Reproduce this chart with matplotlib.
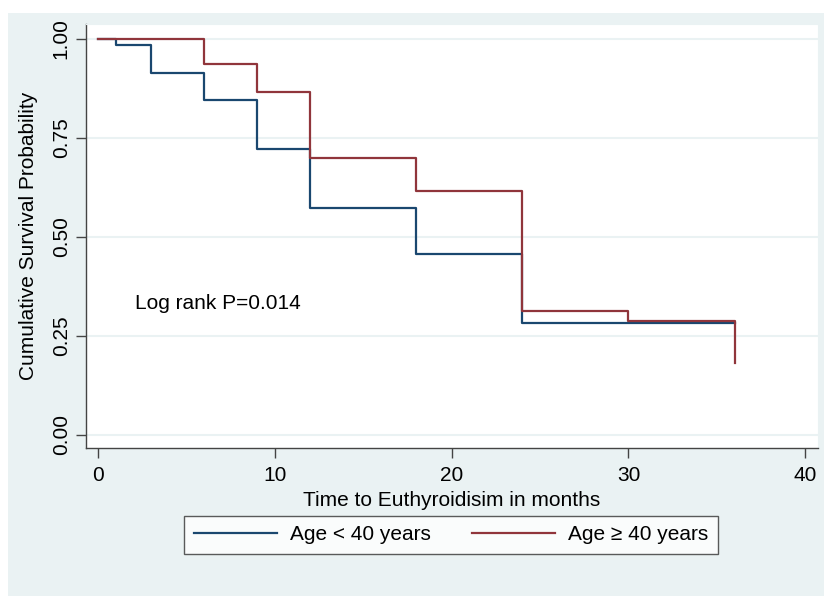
import matplotlib
matplotlib.use("Agg")
import matplotlib.pyplot as plt
from matplotlib.patches import Rectangle

plt.rcParams["font.family"] = ["Liberation Sans", "DejaVu Sans"]

# ---- data
young_t = [0, 1, 3, 6, 9, 12, 18, 24, 36]
young_s = [1.0, 0.984, 0.913, 0.846, 0.720, 0.573, 0.455, 0.282, 0.282]
old_t = [0, 6, 9, 12, 18, 24, 30, 36]
old_s = [1.0, 0.937, 0.866, 0.699, 0.615, 0.313, 0.287, 0.18]
labels = ["Age < 40 years", "Age \u2265 40 years"]
xticks = [0, 10, 20, 30, 40]
yticks = [0.0, 0.25, 0.50, 0.75, 1.00]

BLUE, RED = "#1A476F", "#90353B"
BG = "#EAF2F3"
FS = 15

fig = plt.figure(figsize=(8.24, 5.97), dpi=100, facecolor="white")
# stata-style light outer region
fig.patches.append(Rectangle((8 / 824, 1 / 597), 816 / 824, (597 - 13 - 1) / 597,
                             transform=fig.transFigure, facecolor=BG,
                             edgecolor="none", zorder=-10))
ax = fig.add_axes([86 / 824, 1 - 448 / 597, (818 - 86) / 824, (448 - 24) / 597])
ax.set_facecolor("white")

for y in yticks:
    ax.axhline(y, color=BG, lw=1.5, zorder=0)

ax.step(young_t, young_s, where="post", color=BLUE, lw=1.6, label=labels[0])
ax.step(old_t, old_s, where="post", color=RED, lw=1.6, label=labels[1])

ax.set_xlim(-0.68, 40.72)
ax.set_ylim(-0.034, 1.037)
ax.set_xticks(xticks)
ax.set_yticks(yticks)
ax.set_yticklabels([f"{v:.2f}" for v in yticks], rotation=90, va="center")
ax.tick_params(labelsize=FS, length=7, width=1, color="#444444", pad=4)
ax.tick_params(axis="x", pad=6)

for s in ["left", "bottom"]:
    ax.spines[s].set_color("#444444")
    ax.spines[s].set_linewidth(1)
for s in ["top", "right"]:
    ax.spines[s].set_color(BG)

ax.set_xlabel("Time to Euthyroidisim in months", fontsize=FS, labelpad=4)
ax.set_ylabel("Cumulative Survival Probability", fontsize=FS, labelpad=10)

ax.text(2.1, 0.33, "Log rank P=0.014", fontsize=FS, va="center", ha="left")

leg = fig.legend(loc="center", bbox_to_anchor=(451 / 824, 1 - 535 / 597), ncol=2,
                 fontsize=FS, frameon=True, fancybox=False, handlelength=4.0,
                 columnspacing=2.0, handletextpad=0.6, borderpad=0.45)
leg.get_frame().set_edgecolor("#333333")
leg.get_frame().set_linewidth(1)
leg.get_frame().set_facecolor("white")

fig.savefig("out.png", dpi=100, facecolor=fig.get_facecolor())
